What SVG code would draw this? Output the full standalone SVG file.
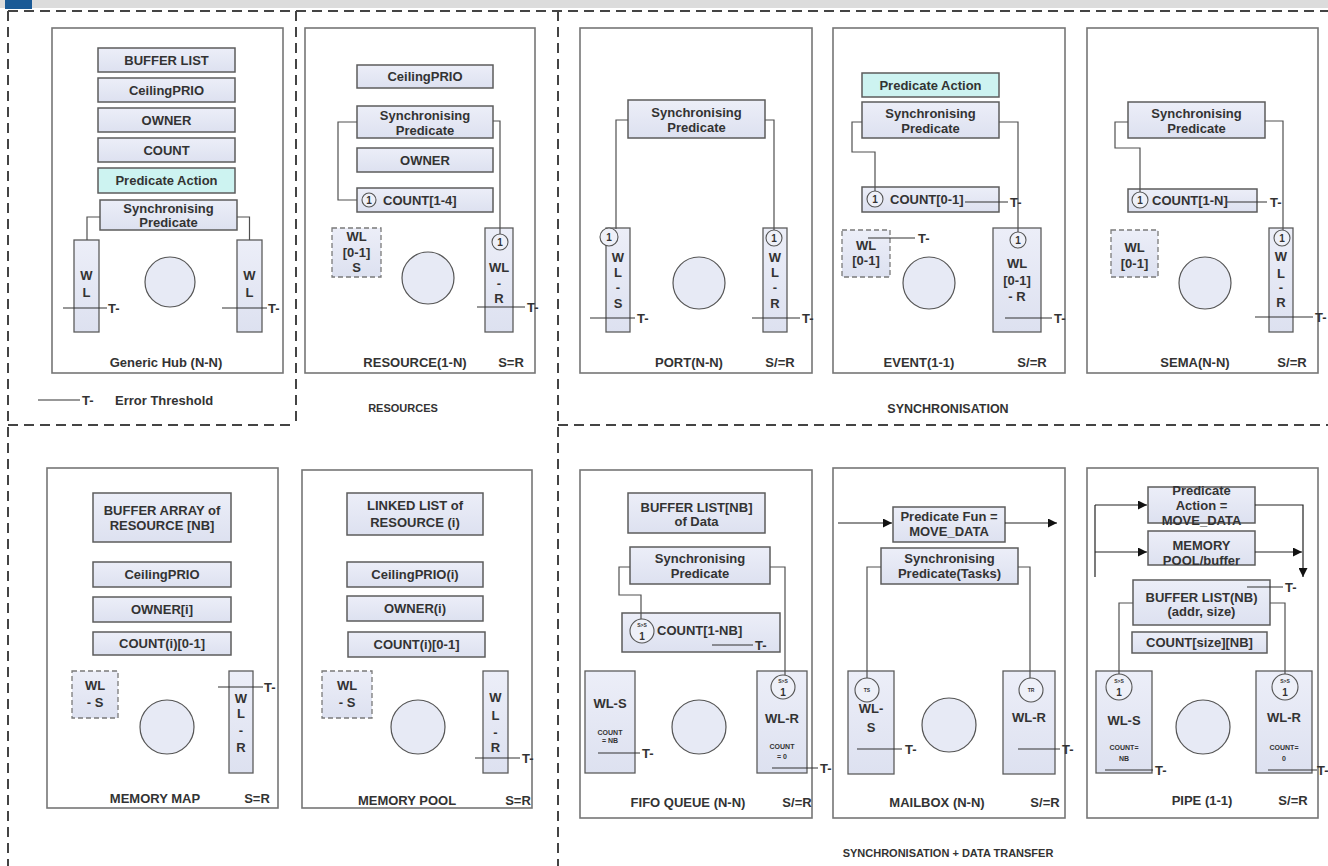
<svg xmlns="http://www.w3.org/2000/svg" width="1328" height="866" viewBox="0 0 1328 866">
<defs>
<linearGradient id="g" x1="0" y1="0" x2="0" y2="1"><stop offset="0" stop-color="#eceef8"/><stop offset="1" stop-color="#dde1f0"/></linearGradient>
<marker id="ah" viewBox="0 0 10 10" refX="10" refY="5" markerWidth="9" markerHeight="9" markerUnits="userSpaceOnUse" orient="auto"><path d="M0,0 L10,5 L0,10 z" fill="#111"/></marker>
<style>
.pn{fill:#fff;stroke:#767676;stroke-width:1.6}
.bx{fill:url(#g);stroke:#5c5c5c;stroke-width:1.5}
.cy{fill:#cdf3f1;stroke:#5c5c5c;stroke-width:1.5}
.db{fill:url(#g);stroke:#7a7a7a;stroke-width:1.3;stroke-dasharray:5 3}
.wl{fill:url(#g);stroke:#5c5c5c;stroke-width:1.3}
.ci{fill:#e7eaf5;stroke:#555;stroke-width:1.2}
.sc{fill:#eef0f8;stroke:#555;stroke-width:1.1}
.cn{fill:none;stroke:#505050;stroke-width:1.2}
.th{stroke:#333;stroke-width:1.2}
.ar{fill:none;stroke:#222;stroke-width:1.2}
.ds{fill:none;stroke:#444;stroke-width:2;stroke-dasharray:10 6}
text{font-family:"Liberation Sans",Arial,sans-serif;font-weight:bold;font-size:13px;fill:#333;text-anchor:middle;dominant-baseline:central}
.st{text-anchor:start}
.s7{font-size:7px}
.s5{font-size:5px}
.s9{font-size:10px}
.s11{font-size:11px}
</style>
</defs>
<rect x="0" y="0" width="1328" height="8" fill="#dcdcdc"/>
<rect x="5" y="0" width="27" height="9" fill="#1a5a96"/>
<g id="frames">
<path class="ds" d="M8,11 H1328 M8,11 V866 M296,11 V425 M8,425 H296 M558,11 V866 M558,425 H1328"/>
</g>
<g id="p-generic">
<rect class="pn" x="52" y="28" width="231" height="345"/>
<rect class="bx" x="98" y="48" width="137" height="24"/><text x="166.5" y="60">BUFFER LIST</text>
<rect class="bx" x="98" y="78" width="137" height="24"/><text x="166.5" y="90">CeilingPRIO</text>
<rect class="bx" x="98" y="108" width="137" height="24"/><text x="166.5" y="120">OWNER</text>
<rect class="bx" x="98" y="138" width="137" height="24"/><text x="166.5" y="150">COUNT</text>
<rect class="cy" x="98" y="168" width="137" height="25"/><text x="166.5" y="180.5">Predicate Action</text>
<rect class="bx" x="100" y="200" width="137" height="30"/><text x="168.5" y="208">Synchronising</text><text x="168.5" y="222">Predicate</text>
<rect class="wl" x="74" y="240" width="25" height="92"/><text x="86.5" y="275">W</text><text x="86.5" y="292">L</text>
<rect class="wl" x="237" y="240" width="25" height="92"/><text x="249.5" y="275">W</text><text x="249.5" y="292">L</text>
<circle class="ci" cx="170" cy="282" r="25"/>
<text x="166" y="362">Generic Hub (N-N)</text>
</g>
<g id="legend">
<line class="th" x1="38" y1="400" x2="80" y2="400"/><text class="st" x="82" y="400">T-</text>
<text class="st" x="115" y="400">Error Threshold</text>
</g>
<g id="p-resource">
<rect class="pn" x="305" y="28" width="230" height="345"/>
<rect class="bx" x="357" y="65" width="136" height="23"/><text x="425" y="76.5">CeilingPRIO</text>
<rect class="bx" x="357" y="106" width="136" height="32"/><text x="425" y="115">Synchronising</text><text x="425" y="130">Predicate</text>
<rect class="bx" x="357" y="148" width="136" height="24"/><text x="425" y="160">OWNER</text>
<rect class="bx" x="357" y="188" width="136" height="24"/><circle class="sc" cx="369" cy="200" r="7"/><text class="s9" x="369" y="200">1</text><text class="st" x="383" y="200">COUNT[1-4]</text>
<rect class="db" x="332" y="228" width="49" height="49"/><text x="356.5" y="236">WL</text><text x="356.5" y="252">[0-1]</text><text x="356.5" y="267">S</text>
<rect class="wl" x="485" y="228" width="28" height="104"/><circle class="sc" cx="500" cy="242" r="8"/><text class="s9" x="500" y="242">1</text>
<text x="499" y="267">WL</text><text x="499" y="283">-</text><text x="499" y="298">R</text>
<circle class="ci" cx="428" cy="278" r="26"/>
<text x="415" y="362">RESOURCE(1-N)</text><text x="511" y="362">S=R</text>
</g>
<g id="p-port">
<rect class="pn" x="580" y="28" width="232" height="345"/>
<rect class="bx" x="628" y="100" width="137" height="38"/><text x="696.5" y="112">Synchronising</text><text x="696.5" y="127">Predicate</text>
<rect class="wl" x="606" y="228" width="24" height="104"/><circle class="sc" cx="609" cy="237" r="9"/><text class="s9" x="609" y="237">1</text>
<text x="618" y="257">W</text><text x="618" y="272">L</text><text x="618" y="287">-</text><text x="618" y="303">S</text>
<rect class="wl" x="763" y="228" width="24" height="104"/><circle class="sc" cx="774" cy="238" r="8"/><text class="s9" x="774" y="238">1</text>
<text x="775" y="257">W</text><text x="775" y="272">L</text><text x="775" y="287">-</text><text x="775" y="303">R</text>
<circle class="ci" cx="699" cy="283" r="26"/>
<text x="689" y="362">PORT(N-N)</text><text x="780" y="362">S/=R</text>
</g>
<g id="p-event">
<rect class="pn" x="833" y="28" width="232" height="345"/>
<rect class="cy" x="862" y="73" width="137" height="24"/><text x="930.5" y="85">Predicate Action</text>
<rect class="bx" x="862" y="102" width="137" height="36"/><text x="930.5" y="113">Synchronising</text><text x="930.5" y="128">Predicate</text>
<rect class="bx" x="862" y="187" width="137" height="25"/><circle class="sc" cx="875" cy="199" r="8"/><text class="s9" x="875" y="199">1</text><text class="st" x="890" y="199">COUNT[0-1]</text>
<rect class="db" x="842" y="230" width="48" height="47"/><text x="866" y="245">WL</text><text x="866" y="260">[0-1]</text>
<rect class="wl" x="993" y="228" width="48" height="104"/><circle class="sc" cx="1018" cy="240" r="8"/><text class="s9" x="1018" y="240">1</text>
<text x="1017" y="263">WL</text><text x="1017" y="280">[0-1]</text><text x="1017" y="296">- R</text>
<circle class="ci" cx="929" cy="283" r="26"/>
<text x="919" y="362">EVENT(1-1)</text><text x="1032" y="362">S/=R</text>
</g>
<g id="p-sema">
<rect class="pn" x="1087" y="28" width="231" height="345"/>
<rect class="bx" x="1128" y="102" width="137" height="36"/><text x="1196.5" y="113">Synchronising</text><text x="1196.5" y="128">Predicate</text>
<rect class="bx" x="1128" y="189" width="129" height="23"/><circle class="sc" cx="1140" cy="200" r="8"/><text class="s9" x="1140" y="200">1</text><text class="st" x="1152" y="200">COUNT[1-N]</text>
<rect class="db" x="1111" y="230" width="47" height="47"/><text x="1134.5" y="247">WL</text><text x="1134.5" y="263">[0-1]</text>
<rect class="wl" x="1269" y="228" width="24" height="104"/><circle class="sc" cx="1282" cy="238" r="8"/><text class="s9" x="1282" y="238">1</text>
<text x="1281" y="256">W</text><text x="1281" y="273">L</text><text x="1281" y="287">-</text><text x="1281" y="302">R</text>
<circle class="ci" cx="1205" cy="283" r="26"/>
<text x="1195" y="362">SEMA(N-N)</text><text x="1292" y="362">S/=R</text>
</g>
<g id="p-memmap">
<rect class="pn" x="47" y="468" width="231" height="340"/>
<rect class="bx" x="93" y="493" width="138" height="49"/><text x="162" y="510">BUFFER ARRAY of</text><text x="162" y="525">RESOURCE [NB]</text>
<rect class="bx" x="93" y="562" width="138" height="25"/><text x="162" y="574.5">CeilingPRIO</text>
<rect class="bx" x="93" y="597" width="138" height="25"/><text x="162" y="609.5">OWNER[i]</text>
<rect class="bx" x="93" y="632" width="138" height="23"/><text x="162" y="643.5">COUNT(i)[0-1]</text>
<rect class="db" x="72" y="671" width="46" height="47"/><text x="95" y="685">WL</text><text x="95" y="702">- S</text>
<rect class="wl" x="229" y="671" width="24" height="102"/><text x="241" y="698">W</text><text x="241" y="713">L</text><text x="241" y="730">-</text><text x="241" y="747">R</text>
<circle class="ci" cx="167" cy="727" r="27"/>
<text x="155" y="798">MEMORY MAP</text><text x="257" y="798">S=R</text>
</g>
<g id="p-mempool">
<rect class="pn" x="302" y="470" width="230" height="338"/>
<rect class="bx" x="347" y="493" width="136" height="42"/><text x="415" y="505">LINKED LIST of</text><text x="415" y="522">RESOURCE (i)</text>
<rect class="bx" x="347" y="562" width="136" height="25"/><text x="415" y="574.5">CeilingPRIO(i)</text>
<rect class="bx" x="347" y="596" width="136" height="25"/><text x="415" y="608.5">OWNER(i)</text>
<rect class="bx" x="348" y="632" width="137" height="25"/><text x="416.5" y="644.5">COUNT(i)[0-1]</text>
<rect class="db" x="322" y="671" width="50" height="47"/><text x="347" y="685">WL</text><text x="347" y="702">- S</text>
<rect class="wl" x="483" y="671" width="25" height="102"/><text x="495.5" y="697">W</text><text x="495.5" y="715">L</text><text x="495.5" y="732">-</text><text x="495.5" y="747">R</text>
<circle class="ci" cx="418" cy="727" r="27"/>
<text x="407" y="800">MEMORY POOL</text><text x="518" y="800">S=R</text>
</g>
<g id="p-fifo">
<rect class="pn" x="580" y="470" width="232" height="348"/>
<rect class="bx" x="628" y="493" width="137" height="40"/><text x="696.5" y="507">BUFFER LIST[NB]</text><text x="696.5" y="521">of Data</text>
<rect class="bx" x="630" y="547" width="140" height="37"/><text x="700" y="558">Synchronising</text><text x="700" y="573">Predicate</text>
<rect class="bx" x="622" y="613" width="158" height="39"/><circle class="sc" cx="642" cy="631" r="12"/><text class="s5" x="642" y="625">S&gt;S</text><text class="s9" x="642" y="636">1</text>
<text class="st" x="657" y="630">COUNT[1-NB]</text>
<rect class="wl" x="585" y="671" width="50" height="102"/><text x="610" y="703">WL-S</text><text class="s7" x="610" y="732">COUNT</text><text class="s7" x="610" y="740">= NB</text>
<rect class="wl" x="757" y="671" width="50" height="102"/><circle class="sc" cx="783" cy="687" r="12"/><text class="s5" x="783" y="681">S&gt;S</text><text class="s9" x="783" y="692">1</text>
<text x="782" y="718">WL-R</text><text class="s7" x="782" y="746">COUNT</text><text class="s7" x="782" y="756">= 0</text>
<circle class="ci" cx="699" cy="727" r="27"/>
<text x="688" y="802">FIFO QUEUE (N-N)</text><text x="797" y="802">S/=R</text>
</g>
<g id="p-mailbox">
<rect class="pn" x="833" y="468" width="232" height="350"/>
<rect class="bx" x="893" y="507" width="112" height="35"/><text x="949" y="516">Predicate Fun =</text><text x="949" y="531">MOVE_DATA</text>
<rect class="bx" x="881" y="548" width="137" height="36"/><text x="949.5" y="558">Synchronising</text><text x="949.5" y="573">Predicate(Tasks)</text>
<rect class="wl" x="848" y="671" width="46" height="103"/><circle class="sc" cx="867" cy="690" r="12"/><text class="s5" x="867" y="690">TS</text>
<text x="871" y="708">WL-</text><text x="871" y="727">S</text>
<rect class="wl" x="1003" y="671" width="52" height="103"/><circle class="sc" cx="1031" cy="690" r="12"/><text class="s5" x="1031" y="690">TR</text>
<text x="1029" y="717">WL-R</text>
<circle class="ci" cx="949" cy="725" r="27"/>
<text x="937" y="802">MAILBOX (N-N)</text><text x="1045" y="802">S/=R</text>
</g>
<g id="p-pipe">
<rect class="pn" x="1087" y="468" width="231" height="350"/>
<rect class="bx" x="1148" y="487" width="107" height="36"/><text x="1201.5" y="490">Predicate</text><text x="1201.5" y="505">Action =</text><text x="1201.5" y="520">MOVE_DATA</text>
<rect class="bx" x="1148" y="531" width="107" height="34"/><text x="1201.5" y="545">MEMORY</text><text x="1201.5" y="560">POOL/buffer</text>
<rect class="bx" x="1133" y="580" width="137" height="45"/><text x="1201.5" y="597">BUFFER LIST(NB)</text><text x="1201.5" y="611">(addr, size)</text>
<rect class="bx" x="1132" y="632" width="135" height="21"/><text x="1199.5" y="642.5">COUNT[size][NB]</text>
<rect class="wl" x="1096" y="671" width="56" height="102"/><circle class="sc" cx="1119" cy="687" r="13"/><text class="s5" x="1119" y="681">S&gt;S</text><text class="s9" x="1119" y="692">1</text>
<text x="1124" y="720">WL-S</text><text class="s7" x="1124" y="747">COUNT=</text><text class="s7" x="1124" y="758">NB</text>
<rect class="wl" x="1256" y="671" width="56" height="102"/><circle class="sc" cx="1285" cy="687" r="13"/><text class="s5" x="1285" y="681">S&gt;S</text><text class="s9" x="1285" y="692">1</text>
<text x="1284" y="717">WL-R</text><text class="s7" x="1284" y="747">COUNT=</text><text class="s7" x="1284" y="758">0</text>
<circle class="ci" cx="1203" cy="727" r="27"/>
<text x="1202" y="800">PIPE (1-1)</text><text x="1293" y="800">S/=R</text>
</g>
<g id="connectors">
<path class="cn" d="M100,217 H87 V240 M237,217 H249.5 V240"/>
<path class="cn" d="M357,122 H338 V200 H357 M493,121 H500 V234"/>
<path class="cn" d="M628,120 H616 V229 M765,120 H774 V230"/>
<path class="cn" d="M862,122 H852 V152 H875 V191 M999,122 H1018 V232"/>
<path class="cn" d="M1128,122 H1115 V148 H1140 V192 M1265,121 H1283 V230"/>
<path class="cn" d="M630,567 H619 V595 H641 V619 M770,567 H785 V675"/>
<path class="cn" d="M881,567 H867 V678 M1018,567 H1030 V678"/>
<path class="cn" d="M1133,603 H1119 V674 M1270,603 H1285 V674"/>
<path class="ar" d="M838,523 H892" marker-end="url(#ah)"/>
<path class="ar" d="M1005,523 H1057" marker-end="url(#ah)"/>
<path class="ar" d="M1095,505 V577"/>
<path class="ar" d="M1095,505 H1147" marker-end="url(#ah)"/>
<path class="ar" d="M1095,552 H1147" marker-end="url(#ah)"/>
<path class="ar" d="M1255,505 H1303 V577" marker-end="url(#ah)"/>
<path class="ar" d="M1255,552 H1302" marker-end="url(#ah)"/>
<g id="thresholds">
<line class="th" x1="63" y1="308" x2="107" y2="308"/><text class="st" x="108" y="308">T-</text>
<line class="th" x1="222" y1="308" x2="267" y2="308"/><text class="st" x="268" y="308">T-</text>
<line class="th" x1="477" y1="307" x2="525" y2="307"/><text class="st" x="527" y="307">T-</text>
<line class="th" x1="590" y1="318" x2="635" y2="318"/><text class="st" x="637" y="318">T-</text>
<line class="th" x1="752" y1="318" x2="800" y2="318"/><text class="st" x="802" y="318">T-</text>
<line class="th" x1="965" y1="202" x2="1008" y2="202"/><text class="st" x="1010" y="202">T-</text>
<line class="th" x1="868" y1="238" x2="915" y2="238"/><text class="st" x="918" y="238">T-</text>
<line class="th" x1="1005" y1="318" x2="1052" y2="318"/><text class="st" x="1054" y="318">T-</text>
<line class="th" x1="1227" y1="202" x2="1267" y2="202"/><text class="st" x="1270" y="202">T-</text>
<line class="th" x1="1255" y1="317" x2="1313" y2="317"/><text class="st" x="1315" y="317">T-</text>
<line class="th" x1="218" y1="687" x2="263" y2="687"/><text class="st" x="264" y="687">T-</text>
<line class="th" x1="475" y1="758" x2="520" y2="758"/><text class="st" x="522" y="758">T-</text>
<line class="th" x1="712" y1="645" x2="753" y2="645"/><text class="st" x="755" y="645">T-</text>
<line class="th" x1="598" y1="753" x2="640" y2="753"/><text class="st" x="642" y="753">T-</text>
<line class="th" x1="772" y1="768" x2="818" y2="768"/><text class="st" x="820" y="768">T-</text>
<line class="th" x1="857" y1="749" x2="902" y2="749"/><text class="st" x="905" y="749">T-</text>
<line class="th" x1="1018" y1="749" x2="1060" y2="749"/><text class="st" x="1062" y="749">T-</text>
<line class="th" x1="1247" y1="587" x2="1283" y2="587"/><text class="st" x="1285" y="587">T-</text>
<line class="th" x1="1105" y1="770" x2="1153" y2="770"/><text class="st" x="1155" y="770">T-</text>
<line class="th" x1="1268" y1="770" x2="1317" y2="770"/><text class="st" x="1317" y="770">T-</text>
</g>
</g>
<g id="section-labels">
<text class="s11" x="403" y="408">RESOURCES</text>
<text style="font-size:12.5px" x="948" y="409">SYNCHRONISATION</text>
<text class="s11" x="948" y="853">SYNCHRONISATION + DATA TRANSFER</text>
</g>
</svg>
